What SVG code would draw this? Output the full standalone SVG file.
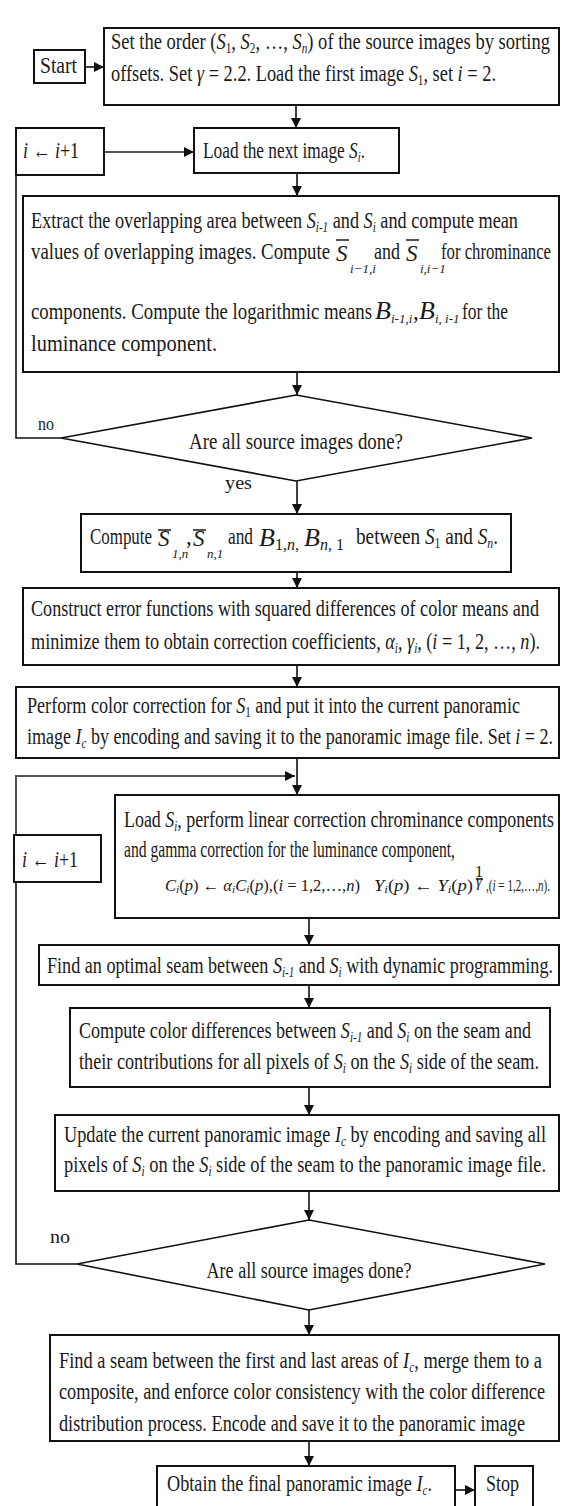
<svg xmlns="http://www.w3.org/2000/svg" width="564" height="1506" viewBox="0 0 564 1506">
<style>
.bx{fill:#fff;stroke:#111;stroke-width:2}
.dm{fill:#fff;stroke:#111;stroke-width:1.6}
.t{font-family:"Liberation Serif","Times New Roman",serif;font-size:23px;fill:#1a1a1a}
.lb{font-family:"Liberation Serif","Times New Roman",serif;font-size:19px;fill:#1a1a1a}
.f{font-family:"Liberation Serif","Times New Roman",serif;font-size:16px;fill:#1a1a1a}
.i{font-style:italic}
.s{font-size:14px}
.ss{font-family:"Liberation Serif","Times New Roman",serif;font-size:13px;font-style:italic;fill:#1a1a1a}
.big{font-family:"Liberation Serif","Times New Roman",serif;font-size:26px;font-style:italic;fill:#1a1a1a}
.sb{font-family:"Liberation Serif","Times New Roman",serif;font-size:23px;font-style:italic;fill:#1a1a1a}
.ob{stroke:#1a1a1a;stroke-width:1.5}
.c{fill:none;stroke:#111;stroke-width:1.6}
.g{fill:none;stroke:#555;stroke-width:2}
</style>
<defs>
<marker id="ah" viewBox="0 0 10 10" refX="10" refY="5" markerWidth="10" markerHeight="10" markerUnits="userSpaceOnUse" orient="auto"><path d="M0,0 L10,5 L0,10 z" fill="#111"/></marker>
</defs>

<g id="connectors">
<line class="c" x1="85" y1="67" x2="104" y2="67" marker-end="url(#ah)"/>
<line class="c" x1="296" y1="105" x2="296" y2="128" marker-end="url(#ah)"/>
<line class="g" x1="104" y1="152" x2="194" y2="152" marker-end="url(#ah)"/>
<line class="c" x1="297" y1="173" x2="297" y2="196" marker-end="url(#ah)"/>
<line class="c" x1="297" y1="372" x2="297" y2="395" marker-end="url(#ah)"/>
<polyline class="c" points="61,438 16,438 16,175"/>
<line class="c" x1="297" y1="481" x2="297" y2="514" marker-end="url(#ah)"/>
<line class="c" x1="297" y1="572" x2="297" y2="588" marker-end="url(#ah)"/>
<line class="c" x1="297" y1="665" x2="297" y2="687" marker-end="url(#ah)"/>
<line class="c" x1="297" y1="758" x2="297" y2="795" marker-end="url(#ah)"/>
<polyline class="g" points="16,835 16,776 295,776" marker-end="url(#ah)"/>
<polyline class="c" points="77,1264 16,1264 16,882"/>
<line class="c" x1="309" y1="918" x2="309" y2="945" marker-end="url(#ah)"/>
<line class="c" x1="309" y1="985" x2="309" y2="1008" marker-end="url(#ah)"/>
<line class="c" x1="309" y1="1087" x2="309" y2="1115" marker-end="url(#ah)"/>
<line class="c" x1="309" y1="1191" x2="309" y2="1220" marker-end="url(#ah)"/>
<line class="c" x1="309" y1="1310" x2="309" y2="1335" marker-end="url(#ah)"/>
<line class="c" x1="309" y1="1441" x2="309" y2="1466" marker-end="url(#ah)"/>
<line class="c" x1="455" y1="1490" x2="475" y2="1490" marker-end="url(#ah)"/>
<text class="lb" x="38" y="430" textLength="16" lengthAdjust="spacingAndGlyphs">no</text>
<text class="lb" x="225" y="489" textLength="27" lengthAdjust="spacingAndGlyphs">yes</text>
<text class="lb" x="50" y="1243" textLength="20" lengthAdjust="spacingAndGlyphs">no</text>
<text class="lb" x="338" y="1288" textLength="31" lengthAdjust="spacingAndGlyphs">yes</text>
</g>

<g id="start">
<rect class="bx" x="34" y="50" width="51" height="33"/>
<text class="t" x="40" y="73" textLength="37" lengthAdjust="spacingAndGlyphs">Start</text>
</g>

<g id="init">
<rect class="bx" x="104" y="28" width="455" height="77"/>
<text class="t" x="111" y="49" textLength="439" lengthAdjust="spacingAndGlyphs">Set the order (<tspan class="i">S</tspan><tspan class="s" dy="4">1</tspan><tspan dy="-4">, </tspan><tspan class="i">S</tspan><tspan class="s" dy="4">2</tspan><tspan dy="-4">, …, </tspan><tspan class="i">S</tspan><tspan class="s i" dy="4">n</tspan><tspan dy="-4">) of the source images by sorting</tspan></text>
<text class="t" x="111" y="81" textLength="385" lengthAdjust="spacingAndGlyphs">offsets.  Set <tspan class="i">γ</tspan> = 2.2.  Load the first image <tspan class="i">S</tspan><tspan class="s" dy="4">1</tspan><tspan dy="-4">, set </tspan><tspan class="i">i</tspan> = 2.</text>
</g>

<g id="inc1">
<rect class="bx" x="16" y="128" width="88" height="47"/>
<text class="t" x="23" y="158" textLength="56" lengthAdjust="spacingAndGlyphs"><tspan class="i">i</tspan> ← <tspan class="i">i</tspan>+1</text>
</g>

<g id="loadnext">
<rect class="bx" x="194" y="128" width="205" height="45"/>
<text class="t" x="203" y="158" textLength="162" lengthAdjust="spacingAndGlyphs">Load the next image <tspan class="i">S</tspan><tspan class="s i" dy="4">i</tspan><tspan dy="-4">.</tspan></text>
</g>

<g id="extract">
<rect class="bx" x="23" y="196" width="536" height="176"/>
<text class="t" x="31" y="228" textLength="487" lengthAdjust="spacingAndGlyphs">Extract the overlapping area between <tspan class="i">S</tspan><tspan class="s i" dy="4">i-1</tspan><tspan dy="-4"> and </tspan><tspan class="i">S</tspan><tspan class="s i" dy="4">i</tspan><tspan dy="-4"> and compute mean</tspan></text>
<text class="t" x="31" y="259" textLength="299" lengthAdjust="spacingAndGlyphs">values of overlapping images. Compute</text>
<text class="sb" x="336" y="261">S</text>
<line class="ob" x1="336" y1="240" x2="349" y2="240"/>
<text class="ss" x="350" y="273">i−1,i</text>
<text class="t" x="374" y="259" textLength="26" lengthAdjust="spacingAndGlyphs">and</text>
<text class="sb" x="406" y="261">S</text>
<line class="ob" x1="406" y1="240" x2="419" y2="240"/>
<text class="ss" x="420" y="273">i,i−1</text>
<text class="t" x="441" y="259" textLength="110" lengthAdjust="spacingAndGlyphs">for chrominance</text>
<text class="t" x="31" y="319" textLength="341" lengthAdjust="spacingAndGlyphs">components. Compute the logarithmic means</text>
<text class="big" x="375" y="319">B</text>
<text class="ss" x="391" y="323">i-1,i</text>
<text class="t" x="413" y="319">,</text>
<text class="big" x="419" y="319">B</text>
<text class="ss" x="435" y="323">i, i-1</text>
<text class="t" x="462" y="319" textLength="46" lengthAdjust="spacingAndGlyphs">for the</text>
<text class="t" x="31" y="351" textLength="186" lengthAdjust="spacingAndGlyphs">luminance component.</text>
</g>

<g id="done1">
<polygon class="dm" points="296,395 532,438 296,481 61,438"/>
<text class="t" x="296" y="449" text-anchor="middle" textLength="214" lengthAdjust="spacingAndGlyphs">Are all source images done?</text>
</g>

<g id="computeN">
<rect class="bx" x="81" y="514" width="430" height="58"/>
<text class="t" x="90" y="544" textLength="62" lengthAdjust="spacingAndGlyphs">Compute</text>
<text class="sb" x="158" y="546">S</text>
<line class="ob" x1="158" y1="530" x2="171" y2="530"/>
<text class="ss" x="172" y="558">1,n</text>
<text class="t" x="186" y="544">,</text>
<text class="sb" x="193" y="546">S</text>
<line class="ob" x1="193" y1="530" x2="206" y2="530"/>
<text class="ss" x="207" y="558">n,1</text>
<text class="t" x="228" y="544" textLength="25" lengthAdjust="spacingAndGlyphs">and</text>
<text class="big" x="259" y="546">B</text>
<text class="f" x="275" y="550">1,<tspan class="i">n</tspan>,</text>
<text class="big" x="304" y="546">B</text>
<text class="f" x="320" y="550"><tspan class="i">n</tspan>, 1</text>
<text class="t" x="356" y="544" textLength="142" lengthAdjust="spacingAndGlyphs">between <tspan class="i">S</tspan><tspan class="s" dy="4">1</tspan><tspan dy="-4"> and </tspan><tspan class="i">S</tspan><tspan class="s i" dy="4">n</tspan><tspan dy="-4">.</tspan></text>
</g>

<g id="construct">
<rect class="bx" x="23" y="588" width="536" height="77"/>
<text class="t" x="31" y="616" textLength="508" lengthAdjust="spacingAndGlyphs">Construct error functions with squared differences of color means and</text>
<text class="t" x="31" y="649" textLength="509" lengthAdjust="spacingAndGlyphs">minimize them to obtain correction coefficients, <tspan class="i">α</tspan><tspan class="s i" dy="4">i</tspan><tspan dy="-4">, </tspan><tspan class="i">γ</tspan><tspan class="s i" dy="4">i</tspan><tspan dy="-4">, (</tspan><tspan class="i">i</tspan> = 1, 2, …, <tspan class="i">n</tspan>).</text>
</g>

<g id="perform">
<rect class="bx" x="16" y="687" width="543" height="71"/>
<text class="t" x="27" y="713" textLength="493" lengthAdjust="spacingAndGlyphs">Perform color correction for <tspan class="i">S</tspan><tspan class="s" dy="4">1</tspan><tspan dy="-4"> and put it into the current panoramic</tspan></text>
<text class="t" x="27" y="744" textLength="526" lengthAdjust="spacingAndGlyphs">image <tspan class="i">I</tspan><tspan class="s i" dy="4">c</tspan><tspan dy="-4"> by encoding and saving it to the panoramic image file. Set </tspan><tspan class="i">i</tspan> = 2.</text>
</g>

<g id="inc2">
<rect class="bx" x="14" y="835" width="87" height="47"/>
<text class="t" x="22" y="867" textLength="56" lengthAdjust="spacingAndGlyphs"><tspan class="i">i</tspan> ← <tspan class="i">i</tspan>+1</text>
</g>

<g id="loadcorrect">
<rect class="bx" x="115" y="795" width="444" height="123"/>
<text class="t" x="124" y="827" textLength="430" lengthAdjust="spacingAndGlyphs">Load <tspan class="i">S</tspan><tspan class="s i" dy="4">i</tspan><tspan dy="-4">, perform linear correction chrominance components</tspan></text>
<text class="t" x="124" y="857" textLength="331" lengthAdjust="spacingAndGlyphs">and gamma correction for the luminance component,</text>
<text class="f" x="165" y="891" textLength="195" lengthAdjust="spacingAndGlyphs"><tspan class="i">C</tspan><tspan class="i" font-size="11" dy="2">i</tspan><tspan dy="-2">(</tspan><tspan class="i">p</tspan>) ← <tspan class="i">α</tspan><tspan class="i" font-size="11" dy="2">i</tspan><tspan class="i" dy="-2">C</tspan><tspan class="i" font-size="11" dy="2">i</tspan><tspan dy="-2">(</tspan><tspan class="i">p</tspan>),(<tspan class="i">i</tspan> = 1,2,…,<tspan class="i">n</tspan>)</text>
<text class="f" x="374" y="891" textLength="99" lengthAdjust="spacingAndGlyphs"><tspan class="i">Y</tspan><tspan class="i" font-size="11" dy="2">i</tspan><tspan dy="-2">(</tspan><tspan class="i">p</tspan>) ← <tspan class="i">Y</tspan><tspan class="i" font-size="11" dy="2">i</tspan><tspan dy="-2">(</tspan><tspan class="i">p</tspan>)</text>
<text class="f" x="479" y="877" font-size="8" text-anchor="middle">1</text>
<line class="ob" x1="476" y1="879" x2="483" y2="879" stroke-width="1"/>
<text class="f i" x="479" y="886" font-size="8" text-anchor="middle">γ</text>
<text class="f" x="486" y="891" textLength="64" lengthAdjust="spacingAndGlyphs">,(<tspan class="i">i</tspan> = 1,2,…,<tspan class="i">n</tspan>).</text>
</g>

<g id="seam">
<rect class="bx" x="39" y="945" width="520" height="40"/>
<text class="t" x="47" y="973" textLength="506" lengthAdjust="spacingAndGlyphs">Find an optimal seam between <tspan class="i">S</tspan><tspan class="s i" dy="4">i-1</tspan><tspan dy="-4"> and </tspan><tspan class="i">S</tspan><tspan class="s i" dy="4">i</tspan><tspan dy="-4"> with dynamic programming.</tspan></text>
</g>

<g id="diffs">
<rect class="bx" x="70" y="1008" width="480" height="79"/>
<text class="t" x="79" y="1038" textLength="452" lengthAdjust="spacingAndGlyphs">Compute color differences between <tspan class="i">S</tspan><tspan class="s i" dy="4">i-1</tspan><tspan dy="-4"> and </tspan><tspan class="i">S</tspan><tspan class="s i" dy="4">i</tspan><tspan dy="-4"> on the seam and</tspan></text>
<text class="t" x="79" y="1069" textLength="460" lengthAdjust="spacingAndGlyphs">their contributions for all pixels of <tspan class="i">S</tspan><tspan class="s i" dy="4">i</tspan><tspan dy="-4"> on the </tspan><tspan class="i">S</tspan><tspan class="s i" dy="4">i</tspan><tspan dy="-4"> side of the seam.</tspan></text>
</g>

<g id="update">
<rect class="bx" x="55" y="1115" width="504" height="76"/>
<text class="t" x="64" y="1142" textLength="482" lengthAdjust="spacingAndGlyphs">Update the current panoramic image <tspan class="i">I</tspan><tspan class="s i" dy="4">c</tspan><tspan dy="-4"> by encoding and saving all</tspan></text>
<text class="t" x="64" y="1172" textLength="482" lengthAdjust="spacingAndGlyphs">pixels of <tspan class="i">S</tspan><tspan class="s i" dy="4">i</tspan><tspan dy="-4"> on the </tspan><tspan class="i">S</tspan><tspan class="s i" dy="4">i</tspan><tspan dy="-4"> side of the seam to the panoramic image file.</tspan></text>
</g>

<g id="done2">
<polygon class="dm" points="309,1220 545,1264 309,1310 77,1264"/>
<text class="t" x="309" y="1278" text-anchor="middle" textLength="205" lengthAdjust="spacingAndGlyphs">Are all source images done?</text>
</g>

<g id="merge">
<rect class="bx" x="50" y="1335" width="509" height="106"/>
<text class="t" x="59" y="1368" textLength="483" lengthAdjust="spacingAndGlyphs">Find a seam between the first and last areas of <tspan class="i">I</tspan><tspan class="s i" dy="4">c</tspan><tspan dy="-4">, merge them to a</tspan></text>
<text class="t" x="59" y="1399" textLength="486" lengthAdjust="spacingAndGlyphs">composite, and enforce color consistency with the color difference</text>
<text class="t" x="59" y="1431" textLength="466" lengthAdjust="spacingAndGlyphs">distribution process. Encode and save it to the panoramic image</text>
</g>

<g id="obtain">
<rect class="bx" x="157" y="1466" width="298" height="50"/>
<text class="t" x="167" y="1491" textLength="265" lengthAdjust="spacingAndGlyphs">Obtain the final panoramic image <tspan class="i">I</tspan><tspan class="s i" dy="4">c</tspan><tspan dy="-4">.</tspan></text>
</g>

<g id="stop">
<rect class="bx" x="475" y="1466" width="58" height="50"/>
<text class="t" x="486" y="1491" textLength="33" lengthAdjust="spacingAndGlyphs">Stop</text>
</g>
</svg>
